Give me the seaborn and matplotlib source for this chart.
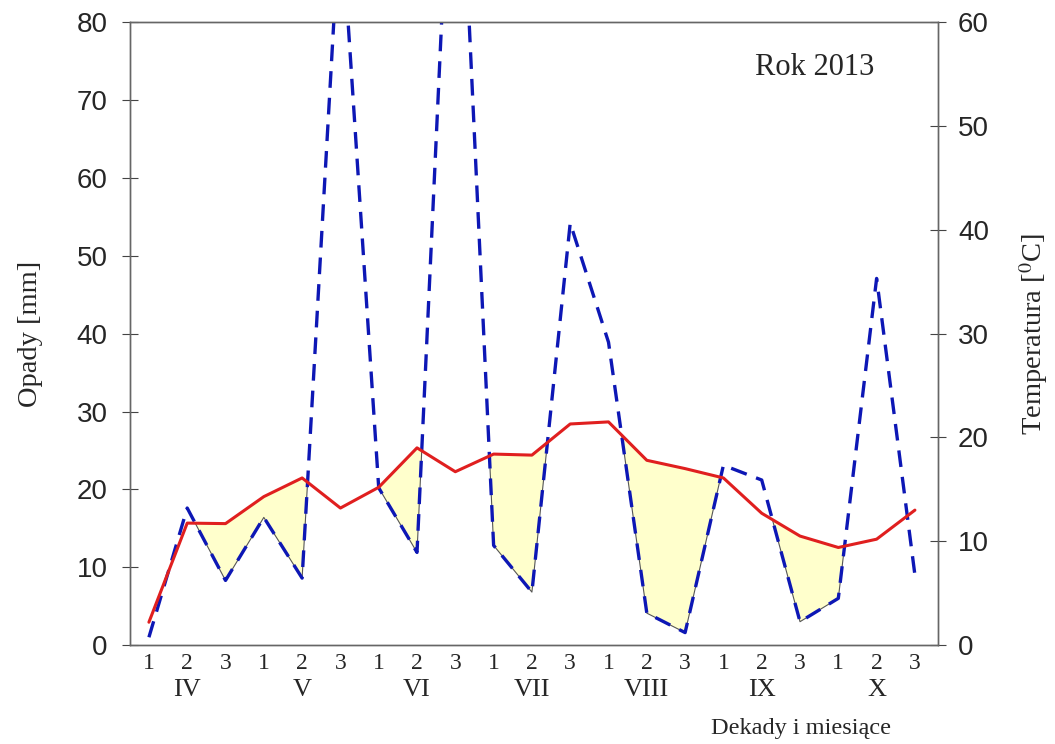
import numpy as np
import pandas as pd
import matplotlib
matplotlib.use('Agg')
import matplotlib.pyplot as plt
import seaborn as sns

# dane (dekady IV-X 2013)
dekady = ['1', '2', '3'] * 7
miesiace = ['IV', 'V', 'VI', 'VII', 'VIII', 'IX', 'X']
opady = [1.0, 17.6, 8.3, 16.4, 8.6, 95.0, 20.2, 11.9, 118.0, 12.8, 6.8,
         54.2, 38.9, 4.1, 1.6, 23.1, 21.2, 3.0, 6.0, 47.1, 9.0]
temperatura = [2.2, 11.75, 11.7, 14.3, 16.1, 13.2, 15.2, 19.0, 16.7, 18.4, 18.3,
               21.3, 21.5, 17.8, 17.0, 16.1, 12.7, 10.5, 9.4, 10.2, 13.0]

data = pd.DataFrame({'nr': np.arange(len(opady)), 'Opady': opady,
                     'Temperatura': temperatura})
data['T_mm'] = data['Temperatura'] * 80 / 60

sns.set_style('white')
plt.rcParams['font.family'] = ['Liberation Serif', 'DejaVu Serif']
plt.rcParams['mathtext.fontset'] = 'stix'

fig = plt.figure(figsize=(10.55, 7.44), dpi=100)
ax = fig.add_axes([0.123, 0.133, 0.766, 0.837])
ax2 = ax.twinx()

# okresy posuszne (opady ponizej temperatury)
susza = (data['Opady'] < data['T_mm']).to_numpy()
susza[0] = False
susza[-1] = False
ax.fill_between(data['nr'], data['Opady'], data['T_mm'], where=susza,
                interpolate=True, facecolor='#ffffcc', edgecolor='#555555',
                linewidth=0.8, zorder=1)

sns.lineplot(data=data, x='nr', y='Opady', ax=ax, color='#0d17b5',
             linewidth=2.4, linestyle=(0, (5, 3)), zorder=3)
sns.lineplot(data=data, x='nr', y='Temperatura', ax=ax2, color='#e01f1f',
             linewidth=2.2, zorder=4)

ax.set_xlim(-0.47, 20.6)
ax.set_ylim(0, 80)
ax2.set_ylim(0, 60)
ax.set_yticks(range(0, 81, 10))
ax2.set_yticks(range(0, 61, 10))

ax.set_xticks(data['nr'])
ax.set_xticklabels(dekady, fontsize=17)
ax.set_xticks(np.arange(-0.5, 20.6, 1), minor=True)
ax.tick_params(axis='x', which='major', length=0, pad=6)
ax.tick_params(axis='x', which='minor', direction='inout', length=14,
               width=0.8, color='#555555')

for a in (ax, ax2):
    for lab in a.get_yticklabels():
        lab.set_family(['Liberation Sans', 'DejaVu Sans'])
        lab.set_fontsize(20)
ax.tick_params(axis='y', direction='inout', length=12, width=0.8,
               color='#444444', pad=10)
ax2.tick_params(axis='y', direction='inout', length=12, width=0.8,
                color='#444444', pad=8.5)

for a in (ax, ax2):
    for s in a.spines.values():
        s.set_color('#666666')
        s.set_linewidth(1.0)

for i, m in enumerate(miesiace):
    ax.text(3 * i + 1, -0.072, m, transform=ax.get_xaxis_transform(),
            ha='center', va='center', fontsize=19)

ax.set_xlabel('')
ax.set_ylabel('Opady [mm]', fontsize=20.5, labelpad=24)
ax2.set_ylabel('Temperatura [$^{0}$C]', fontsize=20.5, labelpad=20)
fig.text(0.759, 0.0215, 'Dekady i miesiące', ha='center', va='center',
         fontsize=17.5)
ax.text(0.848, 0.928, 'Rok 2013', transform=ax.transAxes, ha='center',
        va='center', fontsize=22)

fig.savefig('out.png', dpi=100)
